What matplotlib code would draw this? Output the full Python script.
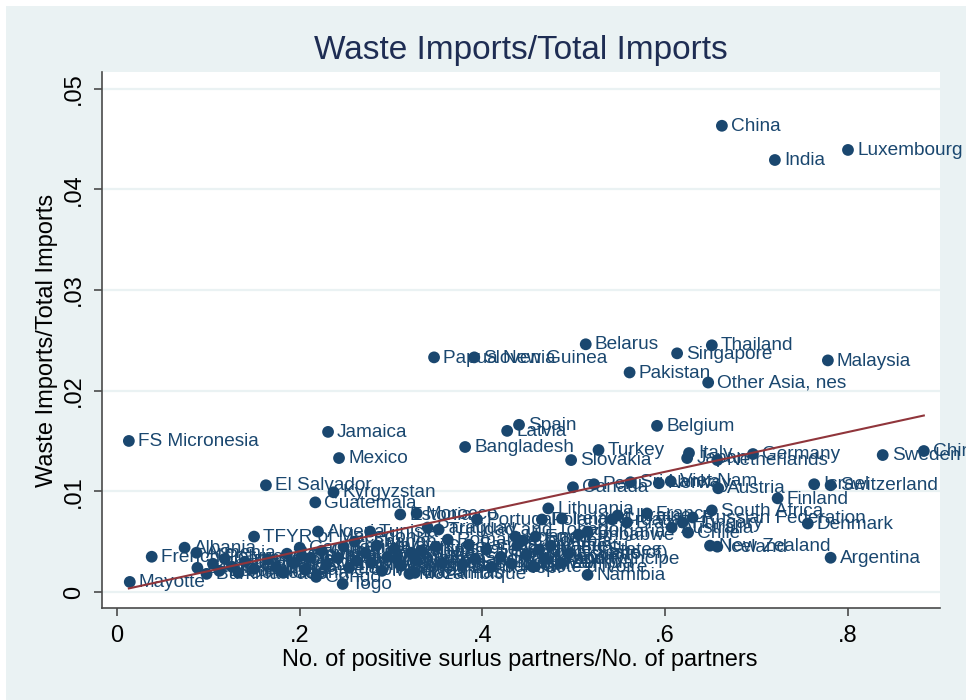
import numpy as np
import matplotlib
matplotlib.use("Agg")
import matplotlib.pyplot as plt
from matplotlib.patches import Rectangle

plt.rcParams['font.family'] = ['Liberation Sans', 'DejaVu Sans']

# share of partners with a positive surplus, and waste imports share
countries = [
    "China", "India", "Luxembourg", "Belarus", "Thailand", "Singapore",
    "Papua New Guinea", "Slovenia", "Malaysia", "Pakistan", "Other Asia, nes",
    "Spain", "Latvia", "Belgium", "FS Micronesia", "Jamaica", "Mexico",
    "Bangladesh", "Turkey", "Slovakia", "Italy", "Japan", "Netherlands",
    "Germany", "Sweden", "China, Hong Kong SAR", "El Salvador", "Kyrgyzstan",
    "Guatemala", "Estonia", "Morocco", "Portugal", "Poland", "Ireland",
    "Lithuania", "Canada", "Peru", "Sri Lanka", "Norway", "Viet Nam",
    "Austria", "Israel", "Switzerland", "Finland", "Denmark", "Argentina",
    "Ukraine", "France", "Russian Federation", "South Africa", "Hungary",
    "Australia", "Chile", "Croatia", "Brazil", "Zimbabwe", "Bulgaria",
    "New Zealand", "Iceland", "Namibia", "Côte d'Ivoire", "Colombia",
    "Mayotte", "French Polynesia", "Albania", "TFYR of Macedonia",
    "Algeria", "Tunisia", "Paraguay", "Trinidad and Tobago", "Togo",
    "Ghana", "Bahamas", "Burkina Faso",
    "Armenia", "Benin", "Bhutan", "Burundi", "Cape Verde", "Chad",
    "Comoros", "Djibouti", "Gambia",
    "Angola", "Belize", "Bermuda", "Botswana", "Cambodia", "Cameroon",
    "Central African Rep.", "Congo", "Cuba", "Dominica", "Guyana",
    "Honduras", "Kenya", "Lao People's Dem. Rep.", "Lebanon",
    "Liberia", "Madagascar", "Malawi", "Maldives", "Mali", "Mauritius",
    "Mongolia", "Mozambique", "Myanmar", "Nepal", "Nicaragua",
    "Bolivia (Plurinational State of)", "Panama",
    "Qatar", "Rep. of Moldova", "Romania", "Saint Lucia", "Samoa",
    "Sao Tome and Principe", "Senegal", "Serbia",
    "Sierra Leone", "Sudan", "Suriname", "Syria", "Uganda",
    "United States", "Uruguay", "Vanuatu", "Zambia", "Egypt", "Ecuador",
]

surplus_share = [
    0.662, 0.720, 0.800, 0.513, 0.651, 0.613,
    0.347, 0.391, 0.778, 0.561, 0.647,
    0.440, 0.427, 0.591, 0.013, 0.231, 0.243,
    0.381, 0.527, 0.497, 0.626, 0.624, 0.657,
    0.696, 0.838, 0.883, 0.163, 0.237,
    0.217, 0.310, 0.328, 0.394, 0.465, 0.487,
    0.472, 0.499, 0.522, 0.562, 0.593, 0.606,
    0.658, 0.763, 0.781, 0.723, 0.756, 0.781,
    0.548, 0.580, 0.630, 0.651, 0.619,
    0.607, 0.625, 0.542, 0.558, 0.505, 0.515,
    0.649, 0.657, 0.515, 0.455, 0.444,
    0.014, 0.038, 0.074, 0.150,
    0.220, 0.277, 0.340, 0.352, 0.247,
    0.182, 0.326, 0.098,
    0.087, 0.088, 0.105, 0.112, 0.118, 0.126,
    0.133, 0.140, 0.150,
    0.165, 0.174, 0.186, 0.194, 0.200, 0.206,
    0.212, 0.218, 0.224, 0.229, 0.202,
    0.242, 0.248, 0.254, 0.260,
    0.272, 0.278, 0.284, 0.290, 0.296, 0.304,
    0.311, 0.320, 0.327, 0.333, 0.262,
    0.322, 0.306,
    0.349, 0.356, 0.362, 0.378, 0.385,
    0.392, 0.404, 0.410,
    0.420, 0.432, 0.438, 0.448, 0.436,
    0.462, 0.468, 0.475, 0.486, 0.458, 0.494,
]

waste_share = [
    0.0463, 0.0429, 0.0439, 0.0246, 0.0245, 0.0237,
    0.0233, 0.0233, 0.0230, 0.0218, 0.0208,
    0.0166, 0.0160, 0.0165, 0.0150, 0.0159, 0.0133,
    0.0144, 0.0141, 0.0131, 0.0138, 0.0133, 0.0131,
    0.0137, 0.0136, 0.0140, 0.0106, 0.0099,
    0.0089, 0.0077, 0.0078, 0.0072, 0.0072, 0.0073,
    0.0083, 0.0104, 0.0107, 0.0109, 0.0108, 0.0110,
    0.0103, 0.0107, 0.0106, 0.0093, 0.0068, 0.0034,
    0.0076, 0.0078, 0.0074, 0.0081, 0.0069,
    0.0064, 0.0059, 0.0072, 0.0069, 0.0057, 0.0060,
    0.0046, 0.0045, 0.0017, 0.0025, 0.0051,
    0.0010, 0.0035, 0.0044, 0.0055,
    0.0060, 0.0060, 0.0064, 0.0062, 0.0008,
    0.0019, 0.0019, 0.0018,
    0.0039, 0.0024, 0.0028, 0.0021, 0.0033, 0.0025,
    0.0019, 0.0030, 0.0023,
    0.0032, 0.0025, 0.0038, 0.0029, 0.0044, 0.0022,
    0.0034, 0.0015, 0.0041, 0.0027, 0.0036,
    0.0034, 0.0045, 0.0024, 0.0050,
    0.0039, 0.0029, 0.0046, 0.0021, 0.0035, 0.0043,
    0.0026, 0.0018, 0.0032, 0.0041, 0.0031,
    0.0039, 0.0033,
    0.0045, 0.0029, 0.0052, 0.0027, 0.0047,
    0.0033, 0.0042, 0.0025,
    0.0035, 0.0028, 0.0046, 0.0037, 0.0055,
    0.0042, 0.0033, 0.0046, 0.0029, 0.0055, 0.0038,
]

x = np.array(surplus_share)
y = np.array(waste_share)

NAVY = "#1A476F"
MAROON = "#90353B"
BG = "#EAF2F3"

fig = plt.figure(figsize=(9.66, 7.0), dpi=100, facecolor="white")
fig.patches.append(Rectangle((6 / 966, 0), 1, 1 - 6 / 700, transform=fig.transFigure,
                             facecolor=BG, edgecolor="none", zorder=-10))

ax = fig.add_axes([102 / 966, 1 - 608 / 700, (940 - 102) / 966, (608 - 72) / 700])
ax.set_facecolor("white")

ax.set_xlim(-0.0164, 0.9007)
ax.set_ylim(-0.00159, 0.05164)

yticks = [0, 0.01, 0.02, 0.03, 0.04, 0.05]
ylabels = ["0", ".01", ".02", ".03", ".04", ".05"]
xticks = [0, 0.2, 0.4, 0.6, 0.8]
xlabels = ["0", ".2", ".4", ".6", ".8"]

for yt in yticks:
    ax.axhline(yt, color=BG, lw=1.6, zorder=0)

ax.scatter(x, y, s=72, color=NAVY, edgecolors="none", zorder=3)
for name, xi, yi in zip(countries, x, y):
    ax.annotate(name, (xi, yi), xytext=(6.5, -0.5), textcoords="offset points",
                ha="left", va="center", fontsize=13.7, color=NAVY,
                annotation_clip=False, zorder=4)

# linear fit over the observed range
slope, intercept = np.polyfit(x, y, 1)
xs = np.array([x.min(), x.max()])
ax.plot(xs, intercept + slope * xs, color=MAROON, lw=1.5, zorder=5)

for side in ["top", "right"]:
    ax.spines[side].set_visible(False)
for side in ["left", "bottom"]:
    ax.spines[side].set_color("#4a4a4a")
    ax.spines[side].set_linewidth(1.2)

ax.set_xticks(xticks)
ax.set_xticklabels(xlabels)
ax.set_yticks(yticks)
ax.set_yticklabels(ylabels, rotation=90, va="center")
ax.tick_params(axis="both", direction="out", length=6, width=1.2, color="#4a4a4a",
               labelsize=17, labelcolor="black")
ax.tick_params(axis="x", pad=6)
ax.tick_params(axis="y", pad=6)

fig.text(521 / 966, 1 - 50 / 700, "Waste Imports/Total Imports", ha="center", va="center",
         fontsize=24, color="#1E2D53")
fig.text(520 / 966, 1 - 660 / 700, "No. of positive surlus partners/No. of partners",
         ha="center", va="center", fontsize=17, color="black")
fig.text(47 / 966, 1 - 340 / 700, "Waste Imports/Total Imports", ha="center", va="center",
         rotation=90, fontsize=17, color="black")

fig.savefig("out.png", dpi=100, facecolor=fig.get_facecolor())
